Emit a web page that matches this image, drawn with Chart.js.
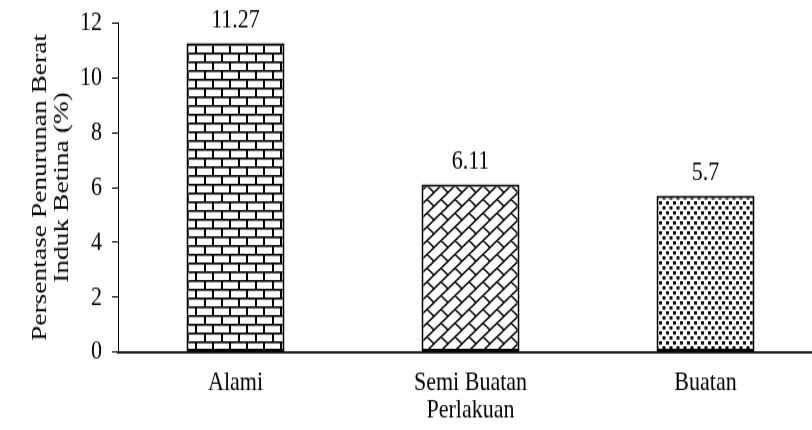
<!DOCTYPE html>
<html>
<head>
<meta charset="utf-8">
<script src="https://cdn.jsdelivr.net/npm/chart.js@4"></script>
<style>
  html, body { margin: 0; padding: 0; background: #fff; overflow: hidden; }
  #wrap { width: 812px; height: 430px; overflow: hidden; }
  /* the source figure is stretched vertically, so draw at 1/1.25 height and scale up */
  #chart { transform: scaleY(1.25); transform-origin: 0 0; }
</style>
</head>
<body>
<div id="wrap"><canvas id="chart" width="823" height="344"></canvas></div>
<script>
const categories = ['Alami', 'Semi Buatan', 'Buatan'];
const values = [11.27, 6.11, 5.7];
const valueLabels = ['11.27', '6.11', '5.7'];
const yTicks = [0, 2, 4, 6, 8, 10, 12];

const FONT = '"Liberation Serif", "Times New Roman", serif';

// fill patterns
function makeTile(w, h, draw) {
  const c = document.createElement('canvas');
  c.width = w; c.height = h;
  const g = c.getContext('2d');
  g.fillStyle = '#fff';
  g.fillRect(0, 0, w, h);
  g.fillStyle = '#000';
  g.strokeStyle = '#000';
  draw(g);
  return document.createElement('canvas').getContext('2d').createPattern(c, 'repeat');
}

const brick = makeTile(17, 14, g => {
  g.fillRect(0, 0, 17, 1.6);
  g.fillRect(0, 7, 17, 1.6);
  g.fillRect(0, 0, 2, 7);
  g.fillRect(8, 7, 2, 7);
});

const diagBrick = makeTile(14, 11, g => {
  g.lineWidth = 1.4;
  g.beginPath();
  // long up-right lines
  g.moveTo(-14, 22); g.lineTo(28, -11);
  g.moveTo(-14, 11); g.lineTo(14, -11);
  g.moveTo(0, 22); g.lineTo(28, 0);
  // short down-right joints
  g.moveTo(7, 5.5); g.lineTo(14, 11);
  g.moveTo(-7, 5.5); g.lineTo(0, 11);
  g.stroke();
});

const dots = makeTile(7, 8, g => {
  g.fillRect(1, 1, 3, 2.6);
  g.fillRect(4.5, 5, 3, 2.6);
  g.fillRect(-2.5, 5, 3, 2.6);
});

const valueLabelPlugin = {
  id: 'valueLabels',
  afterDatasetsDraw(chart) {
    const { ctx } = chart;
    const meta = chart.getDatasetMeta(0);
    ctx.save();
    ctx.font = '22px ' + FONT;
    ctx.fillStyle = '#000';
    ctx.textAlign = 'center';
    ctx.textBaseline = 'middle';
    meta.data.forEach((bar, i) => {
      ctx.fillText(valueLabels[i], bar.x, bar.y - 18);
    });
    ctx.restore();
  }
};

new Chart(document.getElementById('chart').getContext('2d'), {
  type: 'bar',
  data: {
    labels: categories,
    datasets: [{
      data: values,
      backgroundColor: [brick, diagBrick, dots],
      borderColor: '#000',
      borderWidth: 2,
      borderSkipped: false,
      barPercentage: 0.417,
      categoryPercentage: 1
    }]
  },
  options: {
    responsive: false,
    animation: false,
    layout: { padding: { top: 18.4, left: 0, right: 0, bottom: 0 } },
    plugins: {
      legend: { display: false },
      tooltip: { enabled: false }
    },
    scales: {
      x: {
        grid: { display: true, drawOnChartArea: false, drawTicks: false },
        border: { color: '#000', width: 1.7 },
        ticks: { color: '#000', padding: 11.6, font: { family: FONT, size: 22 } },
        title: {
          display: true, text: 'Perlakuan', color: '#000',
          font: { family: FONT, size: 22, lineHeight: 1.2 },
          padding: { top: 0, bottom: 2.8 }
        },
        afterFit: s => { s.height = 62.4; s.paddingLeft = 0; s.paddingRight = 0; }
      },
      y: {
        min: 0, max: 12,
        afterBuildTicks: s => { s.ticks = yTicks.map(v => ({ value: v })); },
        grid: { drawOnChartArea: false, drawTicks: true, tickLength: 6, color: '#000', lineWidth: 1 },
        border: { color: '#000', width: 1 },
        ticks: { color: '#000', padding: 10, font: { family: FONT, size: 22 } },
        title: {
          display: true, text: ['Persentase Penurunan Berat', 'Induk Betina (%)'], color: '#000',
          font: { family: FONT, size: 22, lineHeight: 1.0 },
          padding: { top: 29, bottom: 0 }
        },
        afterFit: s => { s.width = 118; s.paddingTop = 0; s.paddingBottom = 0; }
      }
    }
  },
  plugins: [valueLabelPlugin]
});
</script>
</body>
</html>
